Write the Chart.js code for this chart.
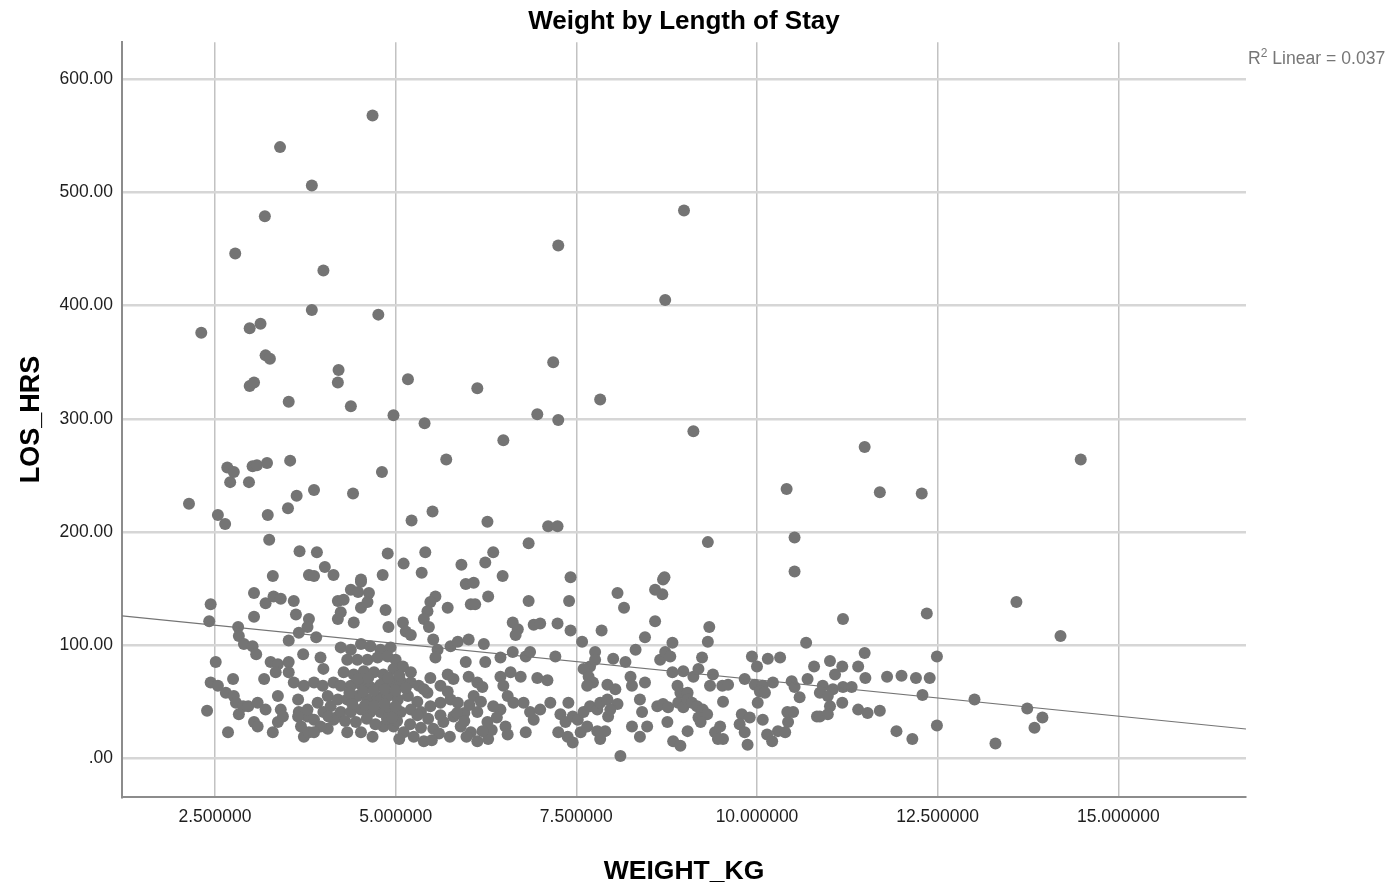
<!DOCTYPE html>
<html>
<head>
<meta charset="utf-8">
<script src="https://cdn.jsdelivr.net/npm/chart.js@4.4.1/dist/chart.umd.min.js"></script>
<style>
html,body{margin:0;padding:0;background:#fff;}
#wrap{position:relative;width:1397px;height:894px;}
#r2{position:absolute;left:1248px;top:48px;font-family:"Liberation Sans",Arial,sans-serif;font-size:17.6px;color:#767676;white-space:nowrap;}
#r2 sup{font-size:12px;vertical-align:7px;line-height:0;}
</style>
</head>
<body>
<div id="wrap">
<canvas id="c" width="1397" height="894"></canvas>
<div id="r2">R<sup>2</sup> Linear = 0.037</div>
</div>
<script>
// WEIGHT_KG (x) and LOS_HRS (y)
const weightKg = [
  // upper scatter
  2.14,2.31,2.54,2.64,2.78,2.67,2.71,2.76,2.97,2.98,2.98,3.04,3.02,3.08,3.13,3.19,3.22,3.20,3.26,3.23,3.25,3.40,3.52,3.54,3.51,3.63,3.67,3.84,3.84,3.87,4.00,3.91,4.21,4.20,4.38,4.41,4.68,4.76,4.81,4.97,4.89,5.17,5.22,5.40,5.51,5.70,6.13,6.27,6.49,6.96,7.11,7.24,7.25,7.18,7.25,7.83,8.73,8.99,9.12,9.32,10.41,10.52,11.49,11.70,12.28,14.48,
  // 150-200 band
  4.02,5.11,5.41,5.36,5.91,6.24,6.35,3.30,3.80,3.87,4.14,4.52,4.82,6.84,6.48,7.42,8.72,10.52,
  // 6.4 - 8.7 kg
  6.84,7.40,8.07,8.16,8.59,8.59,6.62,6.69,6.66,6.91,7.00,7.24,7.42,7.85,7.58,8.45,8.32,8.66,6.45,6.62,6.80,6.86,7.21,7.76,7.69,7.60,7.67,7.73,7.65,7.76,8.01,8.18,8.25,8.27,7.93,8.04,8.45,6.96,7.10,6.45,6.59,6.73,6.49,6.55,6.63,6.77,6.86,6.91,7.00,7.14,6.45,6.52,6.55,6.80,7.39,7.28,7.35,7.45,7.52,7.60,7.69,7.79,7.83,7.93,8.07,7.25,7.38,7.45,7.56,7.65,7.79,7.90,7.83,7.94,7.97,8.38,8.41,8.27,8.38,8.48,8.11,8.62,
  // 8.7 - 10.8 kg
  8.70,8.69,9.34,9.32,10.68,8.83,8.73,8.80,9.24,9.93,10.00,10.15,10.32,10.79,8.83,8.98,9.12,9.19,9.39,9.35,9.52,9.60,9.83,9.97,10.08,10.22,10.48,10.52,10.70,8.90,8.94,9.04,9.53,10.04,10.11,10.59,10.01,8.70,8.77,8.91,8.98,9.04,9.10,9.17,9.25,9.31,8.76,9.04,8.84,8.94,9.19,9.22,9.42,9.49,9.53,9.46,9.79,9.76,9.83,9.87,9.90,10.08,10.14,10.21,10.29,10.39,10.43,10.42,10.50,10.83,
  // 10.8 - 14.2 kg
  11.19,12.35,13.59,14.20,11.49,12.49,11.01,11.18,11.08,11.40,11.50,11.80,12.00,12.20,12.39,10.91,11.05,11.19,11.31,10.87,10.98,11.01,11.18,10.87,10.98,12.29,13.01,13.74,13.95,13.84,11.40,11.53,11.70,11.93,12.15,12.49,13.30,
  // 2.3 - 4.2 kg
  2.44,2.42,3.04,3.20,3.31,3.41,3.59,3.62,3.04,3.80,3.78,3.66,3.52,3.90,2.82,2.83,2.90,3.02,3.07,2.51,2.44,2.54,2.75,2.65,2.76,2.79,2.83,2.89,2.96,2.39,2.68,3.04,3.09,3.09,3.20,3.18,3.30,3.27,3.37,3.34,3.52,3.52,3.59,3.37,3.41,3.37,3.44,3.72,3.65,3.73,3.66,3.78,3.73,3.80,3.96,4.00,3.87,3.99,4.06,3.92,4.00,4.10,4.20,4.14,4.06,4.14,4.20,4.20,3.65,3.78,3.87,3.96,4.07,4.20,3.87,3.69,
  // 4.2 - 6.3 kg
  4.52,4.38,4.48,4.63,5.97,6.08,6.28,6.04,6.10,5.55,5.48,5.44,5.39,5.46,5.72,4.28,4.52,4.61,4.42,4.24,4.86,4.90,5.10,5.14,5.21,5.52,5.58,5.55,5.76,5.86,6.01,6.22,5.97,6.24,5.48,5.72,5.80,6.01,6.13,6.20,6.08,6.13,6.27,6.28,
  // dense cluster 4.2 - 6.3 kg
  4.24,4.38,4.52,4.65,4.79,4.93,4.33,4.47,4.61,4.75,4.89,5.00,4.28,4.42,4.56,4.70,4.83,4.97,5.10,5.21,4.24,4.38,4.52,4.65,4.79,4.93,5.07,5.21,5.32,4.33,4.47,4.61,4.75,4.89,5.03,5.17,5.30,5.44,4.24,4.38,4.52,4.65,4.79,4.93,5.07,5.21,5.35,5.48,5.62,5.76,4.33,4.52,4.68,4.83,4.97,5.11,5.25,5.39,5.52,5.66,5.80,5.90,6.04,6.13,5.39,5.62,5.72,5.86,
  4.30,4.45,4.60,4.72,4.88,5.02,4.40,4.58,4.70,4.85,5.00,4.36,4.55,4.70,4.85,5.00,5.14,4.48,4.62,4.90,5.05,
  5.95,6.02,6.18,6.35,6.40,6.33,5.98,6.20,
  5.20,5.35,5.45,5.60,5.75,5.05,5.50,5.85,5.95,4.95,5.30,5.62
];
const losHrs = [
  225,376,215,207,446,257,244,253,244,380,329,332,258,259,384,479,261,356,353,215,193,540,315,263,221,232,183,506,396,237,431,182,343,332,311,234,568,392,253,303,181,335,210,296,218,264,327,209,281,304,205,205,453,350,299,317,405,484,289,191,238,195,275,235,234,264,
  169,172,182,164,171,173,182,161,162,161,162,158,162,190,161,160,160,165,
  139,139,146,133,149,121,120,114,109,118,119,119,113,113,103,107,96,87,89,94,90,94,90,94,81,79,72,67,64,87,88,85,72,64,65,61,67,71,69,72,76,72,64,55,49,49,41,34,43,49,43,28,21,23,49,39,32,37,34,41,46,43,49,52,48,23,19,14,23,28,24,24,17,37,43,52,41,28,19,28,2,46,
  158,145,116,103,102,102,94,90,89,90,81,88,89,81,76,77,72,79,74,64,64,65,70,65,64,67,68,63,70,64,58,58,50,59,58,54,49,48,45,49,45,52,49,46,43,39,32,24,15,11,36,32,23,28,17,17,39,30,23,12,36,34,21,15,24,23,32,41,41,37,
  123,128,138,108,93,90,86,81,74,81,71,72,73,71,71,64,61,63,63,58,55,46,49,37,39,56,52,44,36,27,43,40,42,24,17,29,13,
  136,121,146,137,143,141,139,127,125,123,116,111,104,107,116,108,101,99,92,85,67,64,70,58,55,49,39,46,46,42,23,32,28,49,43,70,23,85,83,76,85,76,67,55,43,32,37,92,52,64,41,37,19,23,89,79,67,64,55,49,41,46,52,34,26,67,139,123,37,43,34,28,37,37,23,28,
  156,149,147,146,154,155,143,136,136,143,138,130,123,116,133,140,133,138,120,129,131,116,120,112,109,105,96,89,99,103,105,101,85,85,71,74,70,72,67,63,55,41,32,17,
  98,96,101,99,96,98,87,87,87,89,90,87,76,74,77,76,74,79,81,76,64,64,65,63,65,67,68,67,64,52,55,52,54,55,52,55,50,58,41,41,43,41,41,43,41,43,41,46,49,52,23,23,19,28,28,23,19,15,26,32,37,28,23,15,61,64,59,49,
  33,32,35,30,35,33,48,47,46,48,46,58,59,60,61,60,62,70,71,71,73,
  40,47,50,46,36,25,19,24,
  30,27,35,22,19,17,16,40,33,36,38,38
];
// fitted linear line, read at the plot's left and right edges
const fitWeight = [1.213, 16.767];
const fitLos = [125.8, 25.9];
// tick values
const xTicks = [2.5, 5, 7.5, 10, 12.5, 15];
const yTicks = [0, 100, 200, 300, 400, 500, 600];
const xRange = [1.213, 16.767];
const yRange = [-34.2, 632.7];

const tickFont = {family: '"Liberation Sans", Arial, sans-serif', size: 17.5};

new Chart(document.getElementById('c'), {
  type: 'scatter',
  data: {
    datasets: [
      {
        type: 'line',
        data: fitWeight.map((x, i) => ({x: x, y: fitLos[i]})),
        borderColor: '#747474',
        borderWidth: 1.2,
        pointRadius: 0,
        fill: false,
        order: 0
      },
      {
        data: weightKg.map((x, i) => ({x: x, y: losHrs[i]})),
        backgroundColor: '#747474',
        borderWidth: 0,
        pointRadius: 6,
        order: 1
      }
    ]
  },
  options: {
    responsive: false,
    animation: false,
    events: [],
    layout: {padding: {left: 0, right: 151, top: 0, bottom: 0}},
    plugins: {
      legend: {display: false},
      tooltip: {enabled: false},
      title: {
        display: true,
        text: 'Weight by Length of Stay',
        fullSize: false,
        color: '#000',
        font: {family: '"Liberation Sans", Arial, sans-serif', size: 26, weight: 'bold'},
        padding: {top: 6, bottom: 5}
      }
    },
    scales: {
      x: {
        type: 'linear',
        min: xRange[0],
        max: xRange[1],
        afterBuildTicks: s => { s.ticks = xTicks.map(v => ({value: v})); },
        afterFit: s => { s.height = 97; },
        ticks: {
          callback: v => v.toFixed(6),
          font: tickFont,
          color: '#1e1e1e',
          padding: 10,
          maxRotation: 0,
          autoSkip: false
        },
        grid: {color: '#c2c2c2', lineWidth: 1.5, drawTicks: false},
        border: {display: true, color: '#8c8c8c', width: 2},
        title: {
          display: true,
          text: 'WEIGHT_KG',
          color: '#000',
          font: {family: '"Liberation Sans", Arial, sans-serif', size: 26.5, weight: 'bold'},
          padding: {top: 0, bottom: 6}
        }
      },
      y: {
        type: 'linear',
        min: yRange[0],
        max: yRange[1],
        afterBuildTicks: s => { s.ticks = yTicks.map(v => ({value: v})); },
        afterFit: s => { s.width = 122; },
        ticks: {
          callback: v => (v === 0 ? '.00' : v.toFixed(2)),
          font: tickFont,
          color: '#1e1e1e',
          padding: 9,
          autoSkip: false
        },
        grid: {color: '#d6d6d6', lineWidth: 2.5, drawTicks: false},
        border: {display: true, color: '#8c8c8c', width: 2},
        title: {
          display: true,
          text: 'LOS_HRS',
          color: '#000',
          font: {family: '"Liberation Sans", Arial, sans-serif', size: 27, weight: 'bold'},
          padding: {top: 15, bottom: 0}
        }
      }
    }
  }
});
</script>
</body>
</html>
